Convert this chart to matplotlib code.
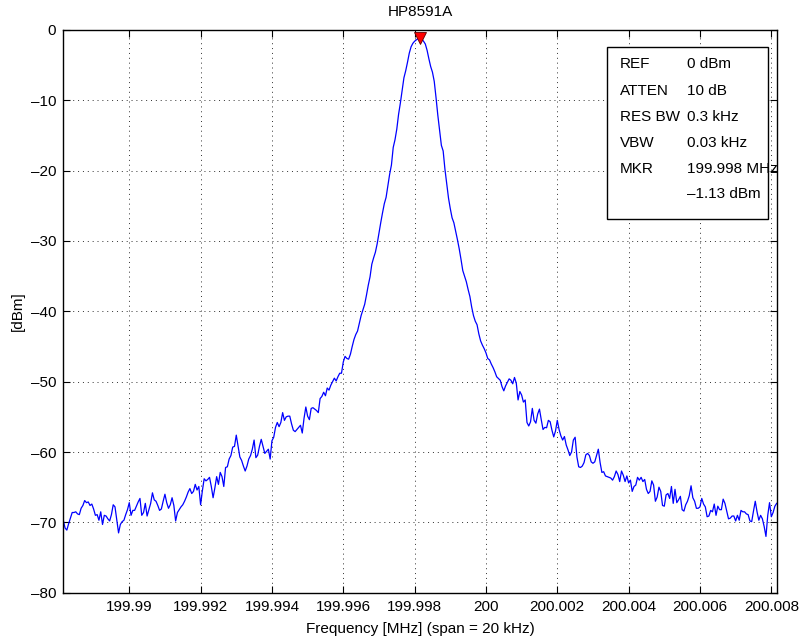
import matplotlib
matplotlib.use("Agg")
import matplotlib.pyplot as plt
from matplotlib.patches import Rectangle
import numpy as np

plt.rcParams["font.family"] = ["Liberation Sans", "DejaVu Sans"]

# sweep: 401 points over a 20 kHz span
f_start = 199.98815
f_stop = 200.00815

# trace level [dBm] left to right
level = [
    -69.7, -70.8, -71.1, -70.2, -69.4, -68.6, -68.6, -68.5, -68.8, -68.9,
    -68.0, -67.6, -66.9, -67.2, -67.1, -67.6, -67.4, -68.1, -69.0, -68.9,
    -69.7, -68.5, -70.3, -69.0, -69.1, -69.5, -69.8, -68.9, -67.5, -67.8,
    -69.6, -71.5, -70.3, -69.9, -69.7, -68.9, -68.2, -67.2, -69.0, -68.3,
    -68.3, -67.7, -67.1, -66.6, -69.0, -68.6, -67.3, -69.1, -68.2, -67.3,
    -65.8, -66.8, -67.0, -67.6, -68.3, -68.1, -67.0, -66.0, -67.2, -68.0,
    -67.5, -66.5, -67.6, -69.8, -68.6, -68.2, -67.8, -67.5, -67.0, -66.4,
    -65.7, -65.2, -65.9, -65.6, -64.6, -65.4, -64.9, -67.5, -65.5, -63.8,
    -64.1, -63.9, -63.6, -64.9, -66.5, -65.1, -63.5, -64.6, -62.9, -63.5,
    -64.9, -62.2, -62.1, -61.0, -60.5, -59.3, -59.2, -57.6, -59.2, -60.7,
    -61.2, -62.0, -62.7, -62.0, -61.0, -60.5, -59.6, -58.3, -60.8, -60.45,
    -59.2, -58.2, -59.2, -60.2, -59.9, -59.6, -61.0, -58.4, -57.9, -56.5,
    -55.8, -56.4, -55.8, -54.4, -55.5, -55.0, -54.9, -54.9, -56.0, -56.9,
    -57.1, -56.8, -56.5, -56.2, -57.3, -55.2, -53.6, -54.9, -55.4, -53.8,
    -53.7, -53.9, -54.1, -54.4, -52.4, -52.1, -51.5, -52.0, -50.9, -51.2,
    -50.5, -50.0, -49.5, -49.9, -49.3, -48.8, -48.8, -47.2, -46.4, -46.7,
    -46.8, -46.1, -45.0, -44.0, -43.3, -42.8, -41.7, -40.6, -39.8, -39.0,
    -37.7, -36.3, -35.1, -33.3, -32.4, -31.6, -30.4, -28.9, -27.4, -26.0,
    -24.7, -23.8, -22.2, -20.5, -19.2, -16.7, -15.6, -14.1, -12.0, -10.4,
    -8.6, -6.8, -5.8, -4.6, -3.3, -2.4, -1.9, -1.6, -1.4, -1.2,
    -1.13, -1.3, -1.6, -2.0, -2.9, -4.1, -5.2, -6.0, -7.3, -9.6,
    -12.1, -14.3, -16.4, -17.2, -19.8, -21.8, -23.9, -25.4, -26.7, -27.4,
    -28.6, -29.8, -31.1, -32.6, -34.2, -35.0, -35.8, -36.9, -37.9, -39.4,
    -40.6, -41.4, -41.9, -43.2, -44.2, -44.8, -45.3, -45.9, -46.7, -46.9,
    -47.5, -48.0, -48.6, -49.3, -49.55, -49.8, -50.7, -51.3, -50.6, -50.1,
    -49.6, -49.8, -50.3, -49.4, -50.2, -52.6, -51.4, -51.9, -52.9, -52.6,
    -55.8, -56.3, -55.7, -53.8, -55.5, -55.9, -54.6, -53.9, -55.4, -56.8,
    -56.5, -56.55, -55.5, -55.7, -56.9, -57.85, -57.0, -55.5, -56.8, -57.7,
    -58.3, -57.8, -59.0, -59.7, -60.5, -60.0, -58.3, -57.9, -60.7, -62.1,
    -62.2, -62.0, -61.5, -60.4, -60.2, -60.5, -61.4, -61.6, -61.4, -60.5,
    -59.6, -61.5, -62.9, -62.8, -63.4, -63.5, -63.6, -63.7, -64.0, -63.5,
    -62.7, -63.2, -64.2, -62.7, -63.3, -64.2, -63.4, -64.4, -64.0, -65.6,
    -64.9, -64.7, -63.6, -64.0, -63.6, -64.2, -63.9, -65.3, -65.9, -65.6,
    -64.1, -64.7, -67.0, -66.4, -65.0, -65.6, -67.6, -67.7, -66.1, -65.9,
    -66.6, -64.9, -67.3, -65.3, -67.2, -66.8, -66.3, -68.2, -68.4, -67.5,
    -67.0, -66.2, -64.8, -66.5, -67.0, -68.0, -68.0, -67.8, -66.6, -67.4,
    -67.8, -69.2, -69.1, -68.3, -68.5, -67.4, -69.0, -67.7, -68.2, -68.2,
    -66.7, -67.3, -68.4, -69.5, -69.4, -69.1, -69.1, -69.8, -69.0, -69.7,
    -68.3, -68.5, -68.5, -68.8, -68.9, -69.8, -69.9, -68.4, -67.0, -68.5,
    -69.7, -69.0, -69.5, -70.6, -72.0, -69.0, -67.2, -69.2, -68.6, -67.7,
    -67.3,
]

marker_freq = 199.99815
marker_level = -1.13

xtick_vals = [199.99, 199.992, 199.994, 199.996, 199.998, 200.0,
              200.002, 200.004, 200.006, 200.008]
xtick_labels = ["199.99", "199.992", "199.994", "199.996", "199.998", "200",
                "200.002", "200.004", "200.006", "200.008"]
ytick_vals = [-80, -70, -60, -50, -40, -30, -20, -10, 0]

box_labels = ["REF", "ATTEN", "RES BW", "VBW", "MKR", ""]
box_values = ["0 dBm", "10 dB", "0.3 kHz", "0.03 kHz", "199.998 MHz", "\u20131.13 dBm"]

freq = np.linspace(f_start, f_stop, len(level))

fig = plt.figure(figsize=(8.04, 6.42), dpi=100)
ax = fig.add_axes([0.0787, 0.0768, 0.8873, 0.8765])

ax.plot(freq, level, color="#0000ff", linewidth=0.9)
ax.plot([marker_freq], [marker_level], marker="v", markersize=9,
        markerfacecolor="#ff0000", markeredgecolor="#600000",
        markeredgewidth=0.6, linestyle="none", clip_on=False, zorder=5)

ax.set_xlim(f_start, f_stop)
ax.set_ylim(-80, 0)
ax.set_xticks(xtick_vals)
ax.set_xticklabels(xtick_labels)
ax.set_yticks(ytick_vals)
ax.set_yticklabels([str(v).replace("-", "\u2013") for v in ytick_vals])

ax.grid(True, color="#303030", linestyle=(0, (1, 4)), linewidth=0.7)
ax.tick_params(direction="in", length=5, width=0.8, top=True, right=True,
               labelsize=11, pad=5, colors="black")
for spine in ax.spines.values():
    spine.set_linewidth(1.0)

ax.set_title("HP8591A", fontsize=11, pad=10)
ax.set_xlabel("Frequency [MHz] (span = 20 kHz)", fontsize=11, labelpad=6)
ax.set_ylabel("[dBm]", fontsize=11, labelpad=4)

# marker info box
ax.add_patch(Rectangle((0.7625, 0.6636), 0.2257, 0.3067, transform=ax.transAxes,
                       facecolor="white", edgecolor="black", linewidth=1.0,
                       zorder=6))
row_y = [0.939, 0.892, 0.8456, 0.7994, 0.7532, 0.7087]
for y, lab, val in zip(row_y, box_labels, box_values):
    ax.text(0.780, y, lab, transform=ax.transAxes, fontsize=11,
            va="center", ha="left", zorder=7)
    ax.text(0.875, y, val, transform=ax.transAxes, fontsize=11,
            va="center", ha="left", zorder=7, clip_on=False)

fig.savefig("out.png", dpi=100)
